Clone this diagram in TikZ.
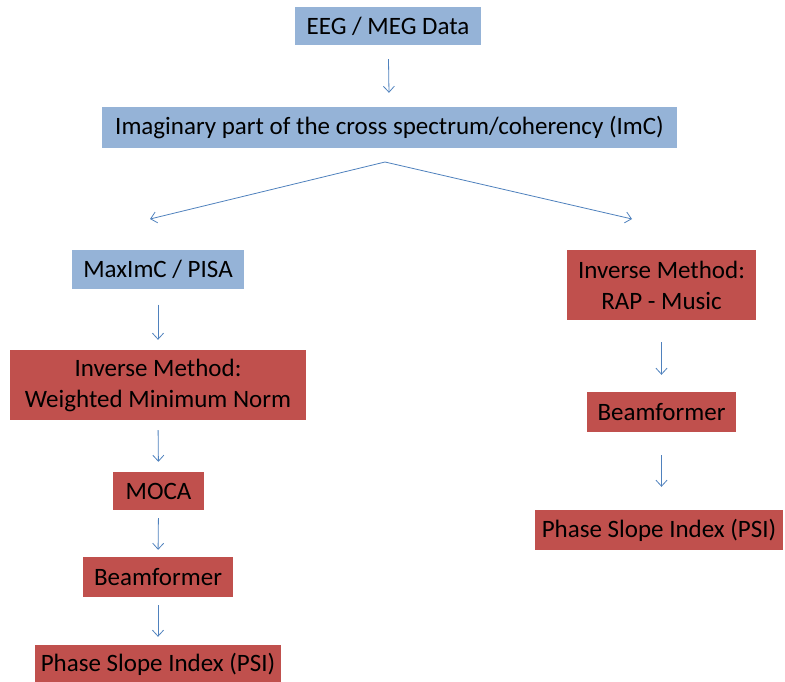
\documentclass[tikz,border=0pt]{standalone}
\usepackage{fontspec}
\setmainfont{Carlito}
\usetikzlibrary{arrows.meta}
\definecolor{boxblue}{HTML}{95B3D7}
\definecolor{boxred}{HTML}{C0504D}
\definecolor{arrblue}{HTML}{4F81BD}
\begin{document}
\begin{tikzpicture}[x=1pt,y=-1pt,
  base/.style={inner sep=0pt, align=center, font=\fontsize{25}{31}\selectfont, text=black},
  bluebox/.style={base, fill=boxblue},
  redbox/.style={base, fill=boxred},
  conn/.style={draw=arrblue, line width=0.8pt, -{Straight Barb[length=6pt,width=11pt]}},
  vconn/.style={conn, shorten <=14pt, shorten >=14pt}]
\useasboundingbox (0,0) rectangle (785,681);
% nodes
\node[bluebox, minimum width=186pt, minimum height=38pt] (eeg) at (388,26) {EEG / MEG Data};
\node[bluebox, minimum width=575pt, minimum height=41pt] (imc) at (389.5,127.5) {Imaginary part of the cross spectrum/coherency (ImC)};
\node[bluebox, minimum width=172pt, minimum height=39pt] (max) at (158,269) {MaxImC / PISA};
\node[redbox, minimum width=296pt, minimum height=70pt] (wmn) at (158,385) {Inverse Method:\\Weighted Minimum Norm};
\node[redbox, minimum width=91pt, minimum height=38pt] (moca) at (158.5,491) {MOCA};
\node[redbox, minimum width=150pt, minimum height=40pt] (beamL) at (158,577) {Beamformer};
\node[redbox, minimum width=246pt, minimum height=38pt] (psiL) at (158,664) {Phase Slope Index (PSI)};
\node[redbox, minimum width=189pt, minimum height=70pt] (rap) at (661.5,285) {Inverse Method:\\RAP - Music};
\node[redbox, minimum width=149pt, minimum height=40pt] (beamR) at (661.5,412) {Beamformer};
\node[redbox, minimum width=248pt, minimum height=40pt] (psiR) at (659,530) {Phase Slope Index (PSI)};
% connectors
\draw[vconn] (eeg) -- (imc);
\coordinate (split) at (385,162);
\coordinate (lend) at (150,219);
\coordinate (rend) at (632,219);
\draw[conn] (split) -- (lend);
\draw[conn] (split) -- (rend);
\draw[conn, shorten <=16pt, shorten >=10pt] (max.south) -- (wmn.north);
\draw[vconn, shorten <=10pt, shorten >=10pt] (wmn.south) -- (moca.north);
\draw[vconn, shorten <=8pt, shorten >=7pt] (moca.south) -- (beamL.north);
\draw[vconn, shorten <=8pt, shorten >=8pt] (beamL.south) -- (psiL.north);
\draw[vconn, shorten <=22pt, shorten >=17pt] (rap.south) -- (beamR.north);
\draw[vconn, shorten <=23pt, shorten >=23pt] (beamR.south) -- (psiR.north -| beamR.south);
\end{tikzpicture}
\end{document}
